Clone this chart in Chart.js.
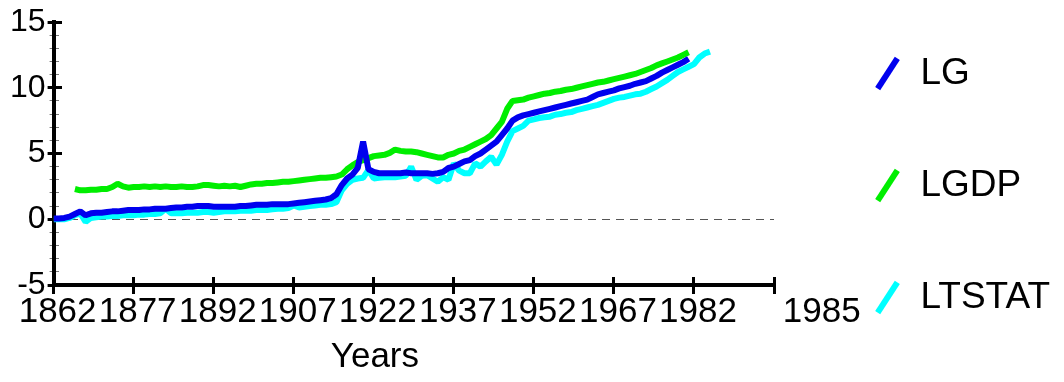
<!DOCTYPE html>
<html>
<head>
<meta charset="utf-8">
<script src="https://cdn.jsdelivr.net/npm/chart.js@4.4.1/dist/chart.umd.min.js"></script>
<style>
  html, body { margin: 0; padding: 0; background: #fff; }
  #wrap { width: 1064px; height: 382px; position: relative; }
</style>
</head>
<body>
<div id="wrap"><canvas id="chart"></canvas></div>
<script>
const years = [
  1862, 1863, 1864, 1865, 1866, 1867, 1868, 1869, 1870, 1871,
  1872, 1873, 1874, 1875, 1876, 1877, 1878, 1879, 1880, 1881,
  1882, 1883, 1884, 1885, 1886, 1887, 1888, 1889, 1890, 1891,
  1892, 1893, 1894, 1895, 1896, 1897, 1898, 1899, 1900, 1901,
  1902, 1903, 1904, 1905, 1906, 1907, 1908, 1909, 1910, 1911,
  1912, 1913, 1914, 1915, 1916, 1917, 1918, 1919, 1920, 1921,
  1922, 1923, 1924, 1925, 1926, 1927, 1928, 1929, 1930, 1931,
  1932, 1933, 1934, 1935, 1936, 1937, 1938, 1939, 1940, 1941,
  1942, 1943, 1944, 1945, 1946, 1947, 1948, 1949, 1950, 1951,
  1952, 1953, 1954, 1955, 1956, 1957, 1958, 1959, 1960, 1961,
  1962, 1963, 1964, 1965, 1966, 1967, 1968, 1969, 1970, 1971,
  1972, 1973, 1974, 1975, 1976, 1977, 1978, 1979, 1980, 1981,
  1982, 1983, 1984, 1985
];

const lg = [
  0.05, 0.05, 0.1, 0.2, 0.4, 0.6, 0.3, 0.45, 0.5, 0.5,
  0.55, 0.6, 0.6, 0.65, 0.7, 0.7, 0.7, 0.75, 0.75, 0.8,
  0.8, 0.8, 0.85, 0.9, 0.9, 0.95, 0.95, 1.0, 1.0, 1.0,
  0.95, 0.95, 0.95, 0.95, 0.95, 1.0, 1.0, 1.05, 1.1, 1.1,
  1.1, 1.15, 1.15, 1.15, 1.15, 1.2, 1.25, 1.3, 1.35, 1.4,
  1.45, 1.5, 1.6, 1.9, 2.6, 3.1, 3.4, 3.9, 5.9, 3.8,
  3.6, 3.5, 3.5, 3.5, 3.5, 3.5, 3.55, 3.5, 3.5, 3.5,
  3.5, 3.45, 3.5, 3.6, 3.9, 4.0, 4.2, 4.4, 4.5, 4.8,
  5.0, 5.3, 5.6, 5.9, 6.4, 6.9, 7.5, 7.75, 7.9, 8.0,
  8.1, 8.2, 8.3, 8.4, 8.5, 8.6, 8.7, 8.8, 8.9, 9.0,
  9.1, 9.3, 9.5, 9.6, 9.7, 9.8, 9.95, 10.05, 10.15, 10.3,
  10.4, 10.5, 10.7, 10.9, 11.15, 11.35, 11.55, 11.75, 11.95, 12.2,
  null, null, null, null
];

const lgdp = [
  null, null, null, null, 2.3, 2.2, 2.2, 2.25, 2.25, 2.3,
  2.3, 2.45, 2.7, 2.5, 2.4, 2.45, 2.45, 2.5, 2.45, 2.5,
  2.45, 2.5, 2.45, 2.45, 2.5, 2.45, 2.45, 2.5, 2.6, 2.6,
  2.55, 2.5, 2.55, 2.5, 2.55, 2.45, 2.55, 2.65, 2.7, 2.7,
  2.75, 2.75, 2.8, 2.85, 2.85, 2.9, 2.95, 3.0, 3.05, 3.1,
  3.15, 3.15, 3.2, 3.25, 3.4, 3.8, 4.1, 4.35, 4.5, 4.65,
  4.8, 4.85, 4.9, 5.05, 5.3, 5.2, 5.15, 5.15, 5.1, 5.0,
  4.9, 4.8, 4.7, 4.7, 4.9, 5.0, 5.2, 5.3, 5.5, 5.7,
  5.9, 6.1, 6.4, 6.9, 7.4, 8.4, 9.0, 9.05, 9.1, 9.25,
  9.35, 9.45, 9.55, 9.6, 9.7, 9.75, 9.85, 9.9, 10.0, 10.1,
  10.2, 10.3, 10.4, 10.45, 10.55, 10.65, 10.75, 10.85, 10.95, 11.05,
  11.2, 11.35, 11.5, 11.7, 11.85, 12.0, 12.15, 12.3, 12.5, 12.7,
  null, null, null, null
];

const ltstat = [
  0.0, 0.0, 0.0, 0.1, 0.3, 0.45, -0.2, 0.1, 0.15, 0.2,
  0.2, 0.25, 0.25, 0.3, 0.3, 0.3, 0.35, 0.35, 0.4, 0.4,
  0.45, 0.8, 0.45, 0.45, 0.45, 0.5, 0.5, 0.5, 0.55, 0.55,
  0.5, 0.55, 0.6, 0.6, 0.6, 0.65, 0.65, 0.65, 0.7, 0.7,
  0.7, 0.75, 0.8, 0.8, 0.85, 1.05, 0.9, 0.95, 1.0, 1.05,
  1.1, 1.1, 1.15, 1.3, 2.2, 2.7, 3.0, 3.1, 3.15, 3.75,
  3.1, 3.15, 3.2, 3.2, 3.2, 3.25, 3.3, 4.0, 3.0, 3.3,
  3.35, 3.1, 2.85, 3.2, 3.0, 4.25, 3.7, 3.5, 3.5, 4.25,
  4.0, 4.4, 4.75, 4.15, 4.9, 5.9, 6.7, 6.9, 7.1, 7.5,
  7.6, 7.7, 7.75, 7.8, 7.95, 8.0, 8.1, 8.15, 8.3, 8.4,
  8.5, 8.6, 8.7, 8.85, 9.0, 9.15, 9.25, 9.3, 9.4, 9.5,
  9.55, 9.7, 9.9, 10.1, 10.35, 10.6, 10.9, 11.2, 11.4, 11.6,
  11.8, 12.3, 12.6, 12.75
];

const seriesNames = ['LG', 'LGDP', 'LTSTAT'];
const seriesColors = ['#0000EE', '#00EE00', '#00FFFF'];

const xTicks = [1862, 1877, 1892, 1907, 1922, 1937, 1952, 1967, 1982, 1997];
const xTickLabels = ['1862', '1877', '1892', '1907', '1922', '1937', '1952', '1967', '1982', '1985'];
const yTicks = [-5, -4, -3, -2, -1, 0, 1, 2, 3, 4, 5, 6, 7, 8, 9, 10, 11, 12, 13, 14, 15];

const FONT = 'Liberation Sans, Arial, sans-serif';

function points(values) {
  return years.map((yr, i) => ({ x: yr, y: values[i] }));
}

const isMajor = c => c.tick && c.tick.value % 5 === 0;

// x ticks cross the axis: short dash at the bottom end of each grid line
function xGridDash(c) {
  const area = c.chart.chartArea;
  if (!area || !c.tick) return [];
  const len = area.bottom - area.top - 2;
  return [0, len - 6, 6, 1000];
}

function yGridDash(c) {
  if (!c.tick) return [];
  if (c.tick.value === 0) return [8, 6];
  return isMajor(c) ? [6, 3000] : [3, 3000];
}

// the last label sits off to the right of its tick
function xLabel(v, i) {
  return (i === xTicks.length - 1 ? ' '.repeat(9) : '') + xTickLabels[i];
}

const datasets = [lg, lgdp, ltstat].map((vals, i) => ({
  label: seriesNames[i],
  data: points(vals),
  borderColor: seriesColors[i],
  backgroundColor: seriesColors[i],
  pointBorderColor: seriesColors[i],
  borderWidth: 6,
  pointBorderWidth: 6,
  pointRadius: 0,
  pointStyle: 'line',
  pointRotation: -57,
  borderJoinStyle: 'bevel',
  tension: 0,
  xAxisID: 'x',
  yAxisID: 'y'
}));

new Chart(document.getElementById('chart'), {
  type: 'line',
  data: { datasets },
  options: {
    responsive: true,
    maintainAspectRatio: false,
    animation: false,
    devicePixelRatio: 1,
    layout: { padding: { left: 8, top: 22, right: 4, bottom: 0 } },
    plugins: {
      tooltip: { enabled: false },
      legend: {
        position: 'right',
        align: 'start',
        title: { display: true, text: ' ', font: { size: 23, lineHeight: 1 }, padding: 0 },
        labels: {
          usePointStyle: true,
          boxWidth: 29,
          boxHeight: 25.5,
          padding: 10,
          color: '#000',
          font: { family: FONT, size: 37, lineHeight: 1.378 },
          generateLabels(chart) {
            const items = Chart.defaults.plugins.legend.labels.generateLabels(chart);
            // extra blank line keeps the items spaced out down the right side
            return items.map((it, i) => {
              it.text = i < items.length - 1 ? [it.text, ''] : [it.text];
              return it;
            });
          }
        }
      }
    },
    scales: {
      x: {
        type: 'linear',
        min: 1862,
        max: 1997,
        afterBuildTicks: s => { s.ticks = xTicks.map(v => ({ value: v })); },
        ticks: {
          autoSkip: false,
          maxRotation: 0,
          minRotation: 0,
          padding: -3,
          labelOffset: 4,
          color: '#000',
          font: { family: FONT, size: 35 },
          callback: xLabel
        },
        grid: {
          color: '#000',
          lineWidth: 3,
          tickLength: 9,
          tickWidth: 3,
          tickColor: '#000'
        },
        border: { display: true, color: '#000', width: 4, dash: xGridDash },
        title: {
          display: true,
          text: 'Years        ',
          color: '#000',
          font: { family: FONT, size: 35 },
          padding: { top: 6, bottom: 4 }
        }
      },
      y: {
        type: 'linear',
        min: -5,
        max: 15,
        afterBuildTicks: s => { s.ticks = yTicks.map(v => ({ value: v })); },
        ticks: {
          autoSkip: false,
          padding: 2,
          color: '#000',
          font: { family: FONT, size: 32 },
          callback: v => (v % 5 === 0 ? String(v) : '')
        },
        grid: {
          color: c => (c.tick && c.tick.value === 0 ? '#555' : (isMajor(c) ? '#000' : '#777')),
          lineWidth: c => (c.tick && c.tick.value === 0 ? 1 : (isMajor(c) ? 3 : 1)),
          tickLength: 6,
          tickWidth: c => (isMajor(c) ? 3 : 1),
          tickColor: c => (isMajor(c) ? '#000' : '#777'),
          tickBorderDash: c => (isMajor(c) ? [] : [0, 2, 10, 0])
        },
        border: { display: true, color: '#000', width: 4, dash: yGridDash }
      },
      // hidden spacer: keeps the empty band between the plot and the legend
      gap: {
        type: 'linear',
        position: 'right',
        display: false,
        afterFit: s => { s.width = 89; }
      }
    }
  }
});
</script>
</body>
</html>
